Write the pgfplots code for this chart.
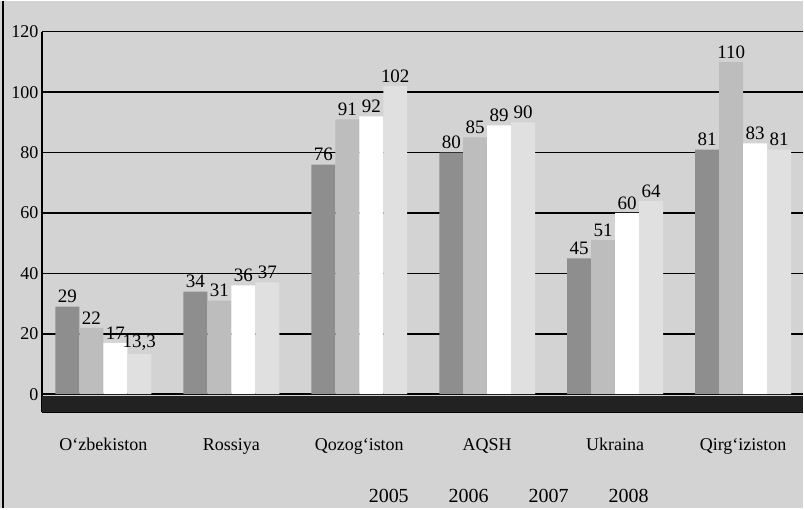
\documentclass[border=0pt]{standalone}
\usepackage{pgfplots}
\pgfplotsset{compat=1.18}
\usepackage{fontspec}
\setmainfont{Liberation Serif}
\definecolor{bg}{HTML}{D3D3D3}
\definecolor{c05}{HTML}{8E8E8E}
\definecolor{c06}{HTML}{BDBDBD}
\definecolor{c07}{HTML}{FFFFFF}
\definecolor{c08}{HTML}{E0E0E0}
\definecolor{floor}{HTML}{222222}

\begin{document}
\begin{tikzpicture}
% background of the page
\fill[bg] (-42pt,-96pt) rectangle (762pt,412pt);
\draw[line width=1.5pt] (-39pt,-96pt) -- (-39pt,412pt);
\begin{axis}[
    at={(0pt,0pt)}, anchor=south west,
    scale only axis,
    width=762pt, height=381pt,
    ybar=0pt, bar width=24pt,
    xmin=-0.48, xmax=5.47,
    ymin=-6, ymax=120,
    axis x line*=bottom, axis y line*=left,
    axis line style={line width=1.5pt},
    xtick=data,
    xticklabels={O‘zbekiston,Rossiya,Qozog‘iston,AQSH,Ukraina,Qirg‘iziston},
    xtick style={draw=none},
    xticklabel style={font=\fontsize{18}{21}\selectfont, yshift=-18pt},
    ytick={0,20,40,60,80,100,120},
    ytick style={draw=none},
    yticklabel style={font=\fontsize{18}{21}\selectfont},
    /pgf/number format/assume math mode=true,
    ymajorgrids, grid style={black, line width=1.5pt},
    nodes near coords,
    nodes near coords style={font=\fontsize{19}{22}\selectfont, /pgf/number format/use comma},
    legend style={at={(0.613,-0.19)}, anchor=north, legend columns=-1,
      draw=none, fill=none, font=\fontsize{20}{24}\selectfont,
      /tikz/every even column/.append style={column sep=36pt}},
    legend image code/.code={},
]
\fill[floor] (axis cs:-0.48,-6) rectangle (axis cs:5.47,-0.7);
\addplot[fill=c05, draw=none] coordinates {(0,29) (1,34) (2,76) (3,80) (4,45) (5,81)};
\addplot[fill=c06, draw=none] coordinates {(0,22) (1,31) (2,91) (3,85) (4,51) (5,110)};
\addplot[fill=c07, draw=none] coordinates {(0,17) (1,36) (2,92) (3,89) (4,60) (5,83)};
\addplot[fill=c08, draw=none] coordinates {(0,13.3) (1,37) (2,102) (3,90) (4,64) (5,81)};
\legend{2005,2006,2007,2008}
\end{axis}
\end{tikzpicture}
\end{document}
